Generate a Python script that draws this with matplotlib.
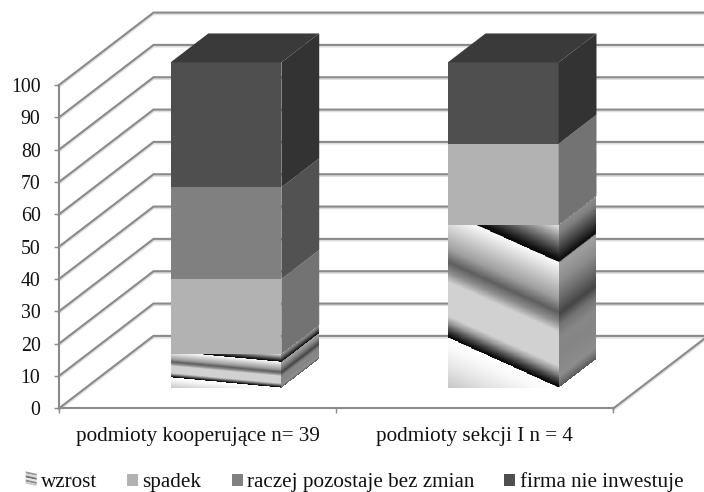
import numpy as np
import matplotlib
matplotlib.use("Agg")
import matplotlib.pyplot as plt
from matplotlib.patches import Polygon, Patch
from matplotlib.legend_handler import HandlerBase

plt.rcParams['font.family'] = ['Liberation Serif', 'DejaVu Serif']

categories = ["podmioty kooperujące n= 39", "podmioty sekcji I n = 4"]
series_names = ["wzrost", "spadek", "raczej pozostaje bez zmian", "firma nie inwestuje"]
wzrost = [10.3, 50.0]
spadek = [23.1, 25.0]
raczej = [28.2, 0.0]
firma = [38.4, 25.0]
series_values = [wzrost, spadek, raczej, firma]
y_ticks = list(range(0, 101, 10))

front_cols = [None, "#b2b2b2", "#808080", "#4f4f4f"]
side_cols = [None, "#737373", "#525252", "#333333"]
top_col = "#3a3a3a"
grid_col = "#8a8a8a"
halo_col = "#dedede"

# oblique projection, in data units (x: category, y: value)
DX, DY = 0.341, 22.4
BAR_W = 0.40
BAR_SHIFT = 0.005
BAR_SCALE = 1.006
D0, D1 = 0.285, 0.685

# texture profiles of the gradient-filled series
tex_pos = [-0.308, -0.175, -0.072, -0.002, 0.0, 0.01, 0.05, 0.092, 0.133, 0.339, 0.40, 0.462,
           0.544, 0.626, 0.688, 0.75, 0.768, 0.772, 0.79, 0.852, 0.914, 0.975, 1.0]
tex_gray = [0.78, 0.9, 0.97, 1.0, 0.03, 0.05, 0.3, 0.6, 0.82, 0.82, 0.55, 0.37,
            0.62, 0.75, 0.85, 0.95, 0.97, 0.03, 0.06, 0.3, 0.55, 0.8, 0.9]
side_pos = [0.0, 0.03, 0.07, 0.2, 0.3, 0.38, 0.45, 0.55, 0.65, 0.75, 0.765, 0.775, 0.85, 0.95, 1.0]
side_gray = [0.35, 0.45, 0.55, 0.52, 0.53, 0.45, 0.27, 0.42, 0.55, 0.62, 0.6, 0.05, 0.25, 0.5, 0.55]
SLOPE = 0.308


fig = plt.figure(figsize=(7.04, 4.92), dpi=100)
ax = fig.add_axes([59 / 704, 1 - 408.3 / 492, 554.5 / 704, 323.3 / 492])
ax.patch.set_alpha(0)
ax.set_xlim(0, 2)
ax.set_ylim(0, 100)


def P(x, v, d):
    return x + DX * d, v * BAR_SCALE + DY * d


# gridlines on walls
for col, lw, off, z in ((halo_col, 2.2, -0.35, 0.8), (grid_col, 1.5, 0, 1)):
    for v in y_ticks:
        ax.plot([0, DX, 2 + DX + 0.1], [v + off, v + DY + off, v + DY + off], color=col, lw=lw,
                clip_on=False, zorder=z, solid_joinstyle='miter')
    ax.plot([2, 2 + DX], [off, DY + off], color=col, lw=lw, clip_on=False, zorder=z)

# bars
for i in range(len(categories)):
    xl = i + 0.5 - BAR_W / 2 + BAR_SHIFT
    xr = i + 0.5 + BAR_W / 2 + BAR_SHIFT
    base = 0.0
    total = sum(s[i] for s in series_values)
    for k, s in enumerate(series_values):
        h = s[i]
        if h <= 0:
            continue
        top = base + h
        if k == 0:
            u = np.linspace(0, 1, 160)
            w = np.linspace(0, 1, 300)
            U, W = np.meshgrid(u, w)
            X, Y = P(xl + (xr - xl) * U, base + h * W, D0)
            C = np.interp(W - SLOPE * (1 - U), tex_pos, tex_gray)
            ax.pcolormesh(X, Y, C[:-1, :-1], cmap='gray', vmin=0, vmax=1,
                          shading='flat', clip_on=False, zorder=3, linewidth=0,
                          antialiased=False)
            X, Y = P(xr, base + h * W, D0 + (D1 - D0) * U)
            C = np.interp(W, side_pos, side_gray)
            ax.pcolormesh(X, Y, C[:-1, :-1], cmap='gray', vmin=0, vmax=1,
                          shading='flat', clip_on=False, zorder=3, linewidth=0,
                          antialiased=False)
        else:
            ax.add_patch(Polygon([P(xl, base, D0), P(xr, base, D0), P(xr, top, D0), P(xl, top, D0)],
                                 fc=front_cols[k], ec='none', clip_on=False, zorder=4))
            ax.add_patch(Polygon([P(xr, base, D0), P(xr, base, D1), P(xr, top, D1), P(xr, top, D0)],
                                 fc=side_cols[k], ec='none', clip_on=False, zorder=4))
        base = top
    ax.add_patch(Polygon([P(xl, total, D0), P(xr, total, D0), P(xr, total, D1), P(xl, total, D1)],
                         fc=top_col, ec='none', clip_on=False, zorder=4))

ax.set_xlim(0, 2)
ax.set_ylim(0, 100)

# axes
for sp in ('top', 'right'):
    ax.spines[sp].set_visible(False)
for sp in ('left', 'bottom'):
    ax.spines[sp].set_color(grid_col)
    ax.spines[sp].set_linewidth(1.5)
    ax.spines[sp].set_zorder(2)
ax.set_yticks(y_ticks)
ax.set_yticklabels([str(v) for v in y_ticks])
ax.set_xticks([0, 1, 2])
ax.set_xticklabels([])
ax.set_xticks([0.5, 1.5], minor=True)
ax.set_xticklabels(categories, minor=True)
ax.tick_params(axis='y', length=3.8, width=1.0, color=grid_col, pad=9.5, labelsize=14.3, labelcolor='#111111')
ax.tick_params(axis='x', which='major', length=3.8, width=1.0, color=grid_col)
ax.tick_params(axis='x', which='minor', length=0, pad=13.3, labelsize=15.2, labelcolor='#111111')


class StripeHandler(HandlerBase):
    def create_artists(self, legend, orig_handle, xd, yd, width, height, fontsize, trans):
        arts = []
        levels = [0.6, 0.85, 0.45, 0.9, 0.55, 0.8]
        n = len(levels)
        for j, g in enumerate(levels):
            y0 = -yd + height * (1 - (j + 1) / n)
            y1 = y0 + height / n
            sl = height * 0.2
            pts = [(-xd, y0 + sl), (-xd + width, y0), (-xd + width, y1), (-xd, y1 + sl)]
            p = Polygon(pts, fc=str(g), ec='none', transform=trans)
            arts.append(p)
        return arts


class Stripe:
    pass


handles = [Stripe()] + [Patch(fc=c, ec='none') for c in front_cols[1:]]
leg = fig.legend(handles, series_names, handler_map={Stripe: StripeHandler()},
                 ncol=4, loc='center', bbox_to_anchor=(354.5 / 704, 1 - 482.5 / 492),
                 frameon=False, fontsize=15.2, handlelength=0.52, handleheight=0.52,
                 handletextpad=0.2, columnspacing=1.43, labelcolor='#111111')

fig.savefig("out.png", dpi=100)
